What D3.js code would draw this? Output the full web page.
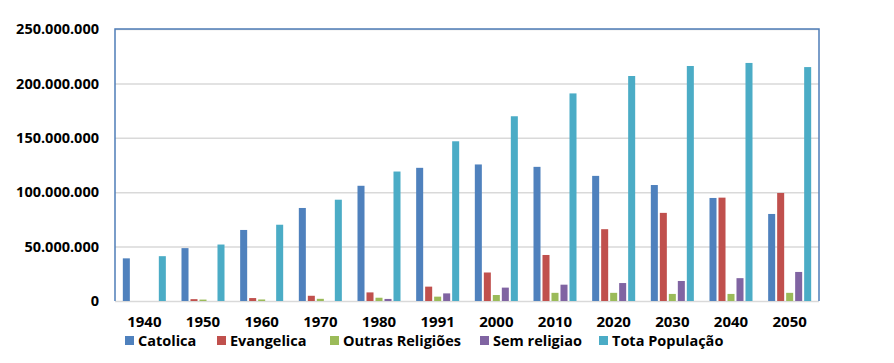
<!DOCTYPE html>
<html>
<head>
<meta charset="utf-8">
<script src="https://cdn.jsdelivr.net/npm/d3@7"></script>
<style>
  body { margin: 0; background: #fff; }
  text { font-family: "Open Sans", sans-serif; font-weight: bold; fill: #000; }
</style>
</head>
<body>
<div id="chart"></div>
<script>
// data
var years = ["1940", "1950", "1960", "1970", "1980", "1991", "2000", "2010", "2020", "2030", "2040", "2050"];
var seriesNames = ["Catolica", "Evangelica", "Outras Religiões", "Sem religiao", "Tota População"];
var colors = ["#4f81bd", "#c0504d", "#9bbb59", "#8064a2", "#4bacc6"];

var catolica   = [39.2e6, 48.6e6, 65.3e6, 85.5e6, 105.9e6, 122.4e6, 125.5e6, 123.3e6, 115.0e6, 106.6e6, 94.7e6, 80.0e6];
var evangelica = [0, 1.7e6, 2.7e6, 4.8e6, 7.9e6, 13.2e6, 26.2e6, 42.3e6, 66.0e6, 81.0e6, 95.0e6, 99.3e6];
var outras     = [0, 1.3e6, 1.4e6, 2.0e6, 3.0e6, 4.0e6, 5.5e6, 7.5e6, 7.5e6, 6.5e6, 6.5e6, 7.5e6];
var semReligiao = [0, 0, 0, 0, 1.9e6, 7.0e6, 12.3e6, 15.0e6, 16.5e6, 18.4e6, 21.0e6, 26.7e6];
var totalPop   = [41.2e6, 51.9e6, 70.1e6, 93.1e6, 119.0e6, 146.8e6, 169.8e6, 190.8e6, 206.8e6, 216.0e6, 218.8e6, 215.0e6];

var yTicks = [0, 50e6, 100e6, 150e6, 200e6, 250e6];

var seriesValues = [catolica, evangelica, outras, semReligiao, totalPop];

var svgWidth = 894;
var svgHeight = 363;
var margin = { top: 29, right: 75, bottom: 62, left: 115 };
var width = svgWidth - margin.left - margin.right;
var height = svgHeight - margin.top - margin.bottom;

var svg = d3.select("#chart")
  .append("svg")
  .attr("width", svgWidth)
  .attr("height", svgHeight);

var chartGroup = svg.append("g")
  .attr("transform", `translate(${margin.left}, ${margin.top})`);

var x0 = d3.scaleBand()
  .domain(years)
  .range([0, width])
  .paddingInner(0.233)
  .paddingOuter(0.1165);

var x1 = d3.scaleBand()
  .domain(d3.range(seriesNames.length))
  .range([0, x0.bandwidth()])
  .paddingInner(0.22)
  .paddingOuter(0.11);

var yScale = d3.scaleLinear()
  .domain([0, 250e6])
  .range([height, 0]);

var fmt = function(v) {
  return d3.format(",")(v).replace(/,/g, ".");
};

// gridlines
var leftAxis = d3.axisLeft(yScale)
  .tickValues(yTicks)
  .tickSize(-width)
  .tickPadding(16)
  .tickFormat(fmt);

var yAxisG = chartGroup.append("g").call(leftAxis);
yAxisG.select(".domain").remove();
yAxisG.selectAll(".tick line").attr("stroke", "#d9d9d9").attr("stroke-width", 1.5);
yAxisG.selectAll(".tick text").style("font-size", "14.5px");

// bars
var rows = years.map(function(yr, i) {
  return seriesValues.map(function(vals, s) { return { year: yr, s: s, v: vals[i] }; });
});

chartGroup.selectAll("g.year")
  .data(rows)
  .enter()
  .append("g")
  .attr("class", "year")
  .attr("transform", function(d, i) { return `translate(${x0(years[i])}, 0)`; })
  .selectAll("rect")
  .data(function(d) { return d; })
  .enter()
  .append("rect")
  .attr("x", d => x1(d.s))
  .attr("width", x1.bandwidth())
  .attr("y", d => yScale(d.v))
  .attr("height", d => height - yScale(d.v))
  .attr("fill", d => colors[d.s]);

// frame: left, top, right in blue
chartGroup.append("path")
  .attr("d", `M0,${height}V0H${width}V${height}`)
  .attr("fill", "none")
  .attr("stroke", "#4f7db8")
  .attr("stroke-width", 1.5);

// x labels
var bottomAxis = d3.axisBottom(x0).tickSize(0).tickPadding(15);
var xAxisG = chartGroup.append("g")
  .attr("transform", `translate(0, ${height})`)
  .call(bottomAxis);
xAxisG.select(".domain").remove();
xAxisG.selectAll(".tick text").style("font-size", "15px");

// legend
var legendX = [125, 217, 330, 480, 599];
var legend = svg.selectAll("g.legend")
  .data(seriesNames)
  .enter()
  .append("g")
  .attr("class", "legend")
  .attr("transform", (d, i) => `translate(${legendX[i]}, 336)`);

legend.append("rect")
  .attr("width", 9)
  .attr("height", 9)
  .attr("fill", (d, i) => colors[i]);

legend.append("text")
  .attr("x", 13)
  .attr("y", 5)
  .attr("dy", "0.35em")
  .style("font-size", "14.5px")
  .text(d => d);
</script>
</body>
</html>
